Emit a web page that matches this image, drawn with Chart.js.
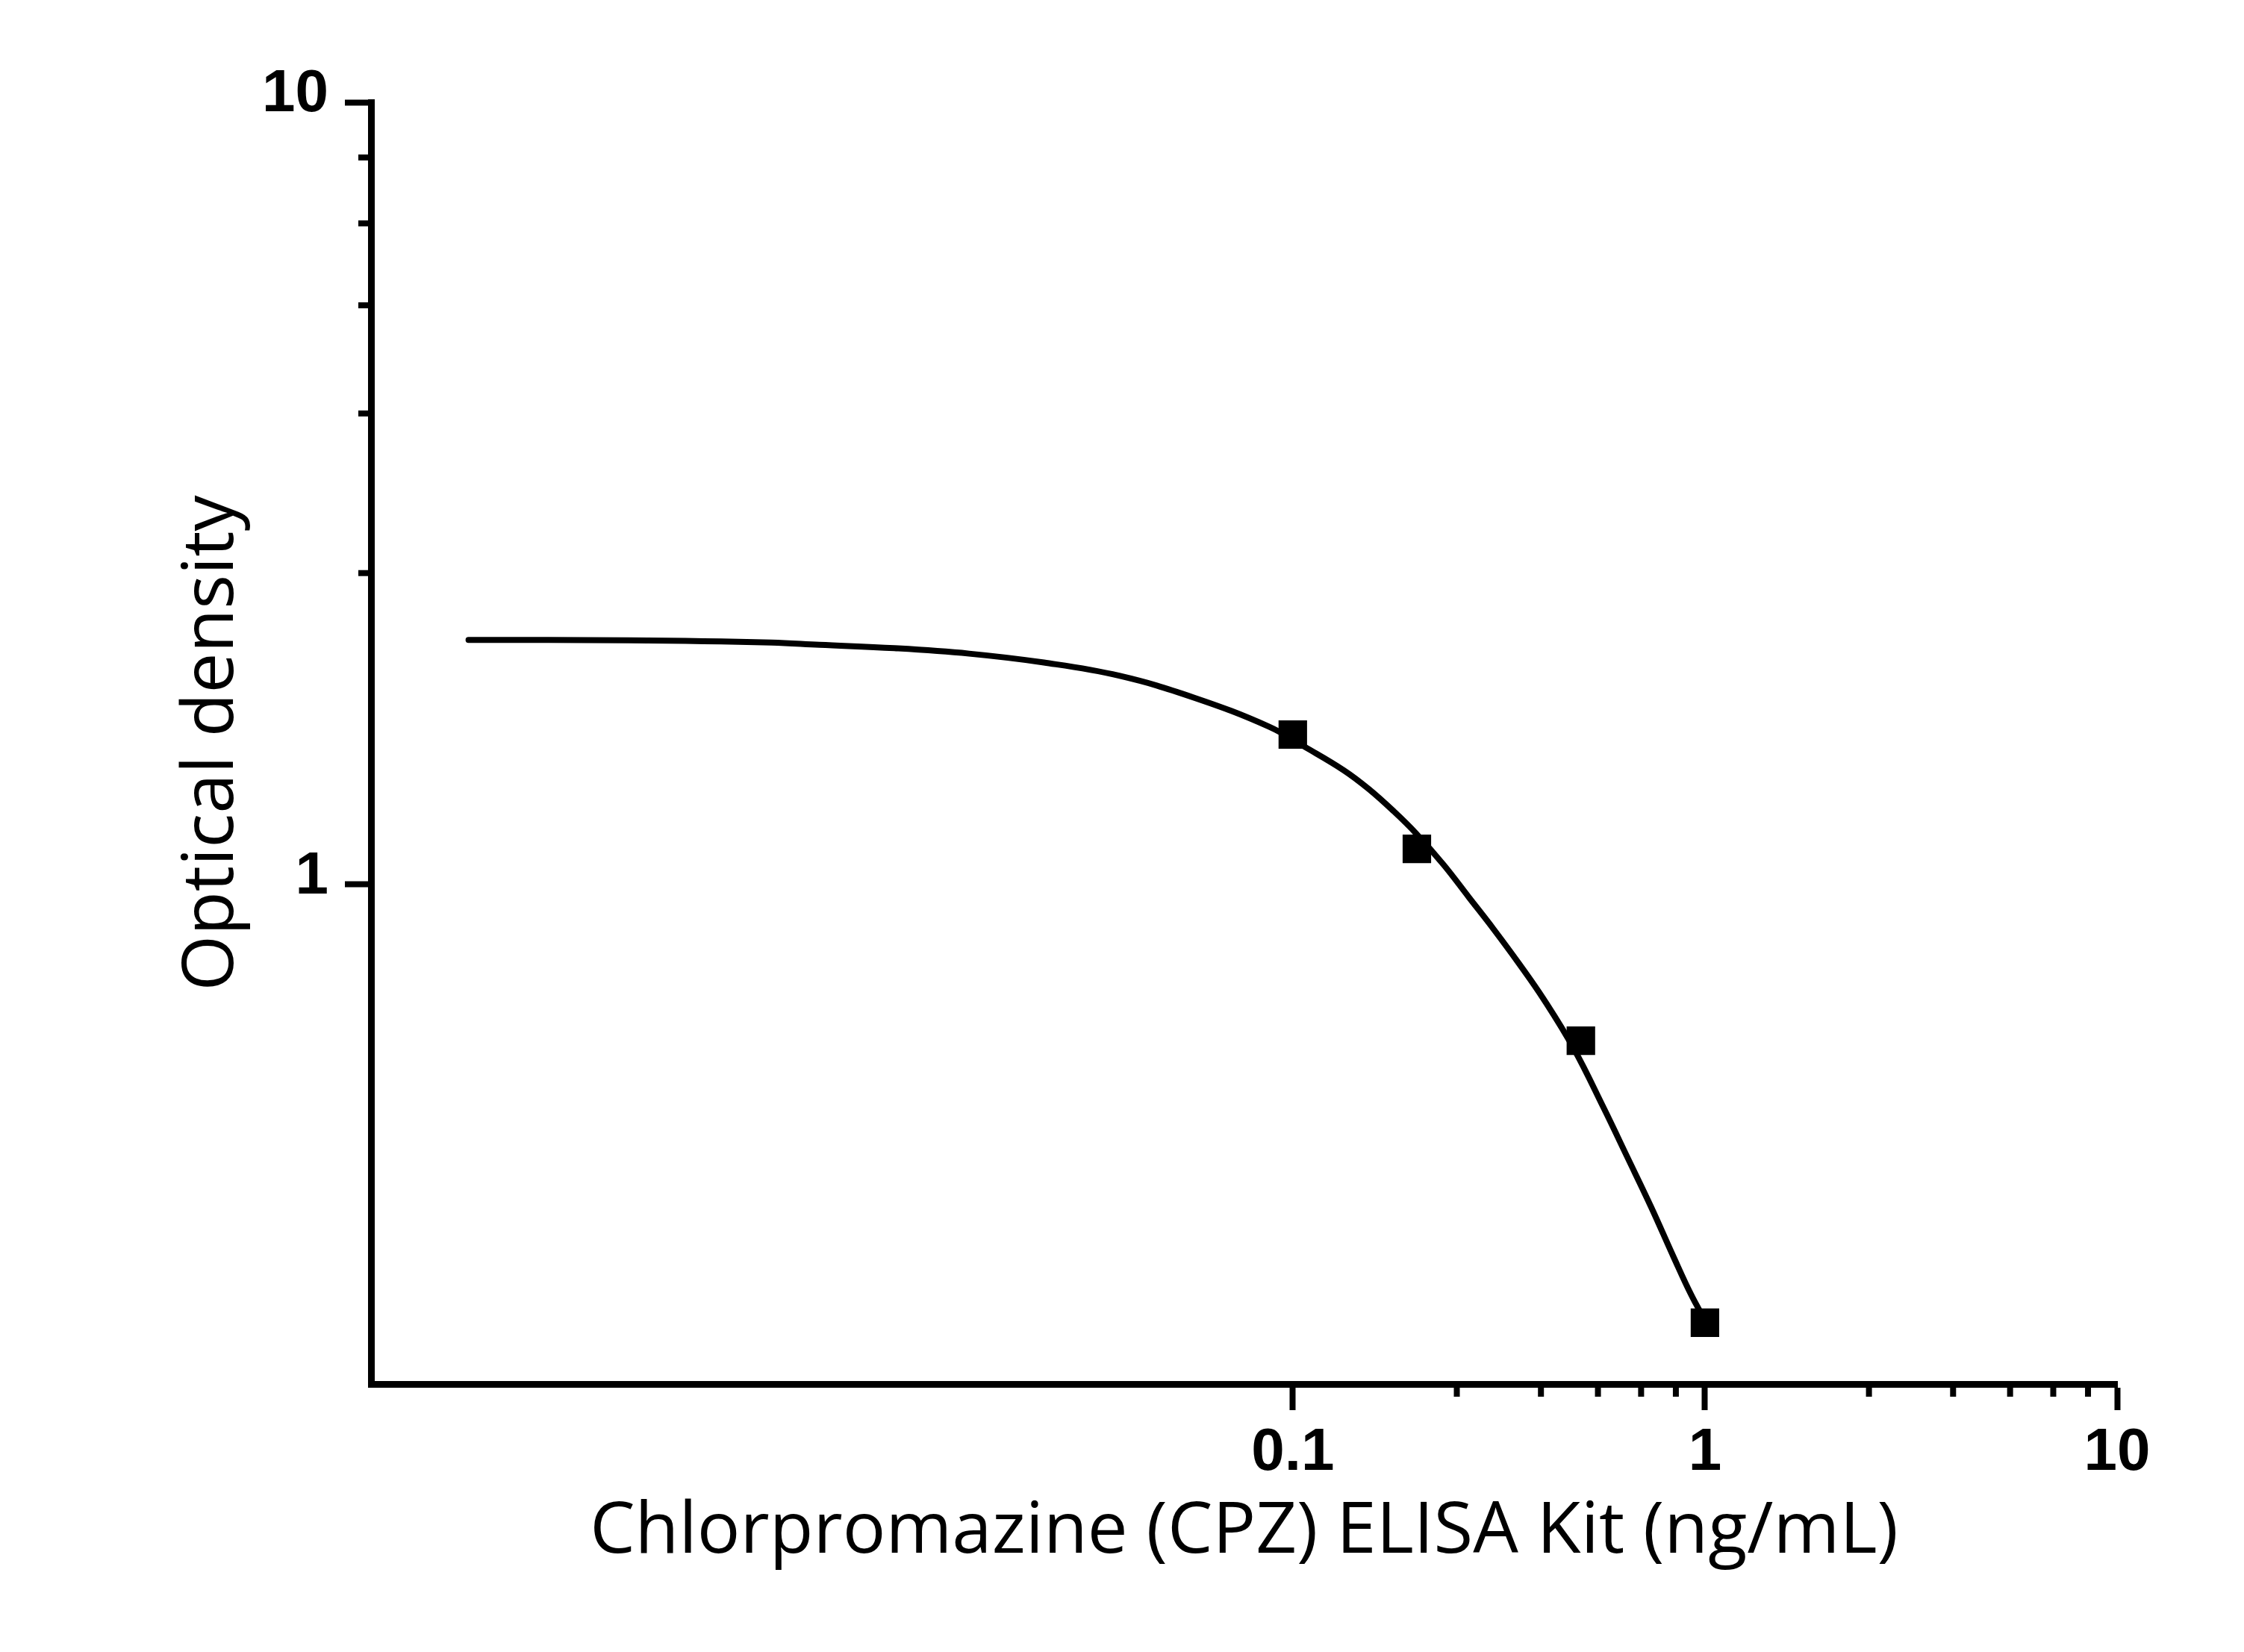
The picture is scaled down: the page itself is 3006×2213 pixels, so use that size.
<!DOCTYPE html>
<html>
<head>
<meta charset="utf-8">
<title>Chlorpromazine (CPZ) ELISA standard curve</title>
<script src="https://cdn.jsdelivr.net/npm/chart.js@4.4.1/dist/chart.umd.min.js"></script>
<style>
  html, body { margin: 0; padding: 0; background: #fff; }
  canvas { display: block; }
</style>
</head>
<body>
<canvas id="curveChart" width="3006" height="2213"></canvas>
<script>
// Standards: concentration (ng/mL) and optical density
const stdConc = [0.1, 0.2, 0.5, 1];
const stdOD = [1.554, 1.110, 0.631, 0.275];

// Fitted curve
const fitConc = [0.001, 0.00244, 0.00543, 0.0071, 0.0108, 0.0164, 0.0249, 0.0379, 0.0575, 0.0875,
                 0.1078, 0.1329, 0.1528, 0.1757, 0.1993, 0.2323, 0.2672, 0.3072, 0.3531, 0.4061,
                 0.4801, 0.5675, 0.6479, 0.7397, 0.8387, 0.9247, 1];
const fitOD = [2.053, 2.051, 2.038, 2.024, 2.004, 1.972, 1.921, 1.848, 1.733, 1.591,
               1.495, 1.399, 1.324, 1.240, 1.161, 1.059, 0.963, 0.876, 0.793, 0.713,
               0.617, 0.518, 0.448, 0.387, 0.334, 0.299, 0.277];

// Axis ticks
const xMajorTicks = [0.1, 1, 10];
const xMinorTicks = [0.25, 0.4, 0.55, 0.7, 0.85, 2.5, 4, 5.5, 7, 8.5];
const yMajorTicks = [1, 10];
const yMinorTicks = [2.5, 4, 5.5, 7, 8.5];

const tickFont = { family: '"Liberation Sans", Arial, sans-serif', size: 80, weight: 'bold' };
const titleFont = { family: '"Open Sans", "Noto Sans", sans-serif', size: 96, weight: 'normal' };

// short minor ticks, Origin style
const minorTicks = {
  id: 'minorTicks',
  afterDraw(chart) {
    const { ctx, chartArea, scales } = chart;
    ctx.save();
    ctx.strokeStyle = '#000';
    ctx.lineWidth = 8;
    xMinorTicks.forEach(v => {
      const px = scales.x.getPixelForValue(v);
      ctx.beginPath();
      ctx.moveTo(px, chartArea.bottom);
      ctx.lineTo(px, chartArea.bottom + 17);
      ctx.stroke();
    });
    yMinorTicks.forEach(v => {
      const py = scales.y.getPixelForValue(v);
      ctx.beginPath();
      ctx.moveTo(chartArea.left, py);
      ctx.lineTo(chartArea.left - 17, py);
      ctx.stroke();
    });
    ctx.restore();
  }
};

new Chart(document.getElementById('curveChart'), {
  type: 'scatter',
  data: {
    datasets: [
      {
        label: 'Standards',
        data: stdConc.map((c, i) => ({ x: c, y: stdOD[i] })),
        pointStyle: 'rect',
        pointRadius: 27,
        pointBorderWidth: 0,
        backgroundColor: '#000',
        order: 0
      },
      {
        label: 'Fit',
        type: 'line',
        data: fitConc.map((c, i) => ({ x: c, y: fitOD[i] })),
        borderColor: '#000',
        borderWidth: 8,
        borderCapStyle: 'round',
        borderJoinStyle: 'round',
        pointRadius: 0,
        tension: 0.4,
        fill: false,
        order: 1
      }
    ]
  },
  options: {
    responsive: false,
    devicePixelRatio: 1,
    animation: false,
    layout: { padding: { left: 0, top: 137, right: 170, bottom: 0 } },
    plugins: { legend: { display: false }, tooltip: { enabled: false } },
    scales: {
      x: {
        type: 'logarithmic',
        min: 0.00058,
        max: 10,
        afterFit: s => { s.height = 359; },
        afterBuildTicks: s => { s.ticks = xMajorTicks.map(v => ({ value: v })); },
        grid: { drawOnChartArea: false, tickLength: 35, tickWidth: 8, tickColor: '#000' },
        border: { display: true, width: 9, color: '#000' },
        ticks: {
          color: '#000', font: tickFont, padding: 10, maxRotation: 0,
          callback: v => String(v)
        },
        title: {
          display: true,
          text: 'Chlorpromazine (CPZ) ELISA Kit (ng/mL)',
          color: '#000', font: titleFont,
          padding: { top: 0, bottom: 103 }
        }
      },
      y: {
        type: 'logarithmic',
        min: 0.2296,
        max: 10,
        afterFit: s => { s.width = 497; },
        afterBuildTicks: s => { s.ticks = yMajorTicks.map(v => ({ value: v })); },
        grid: { drawOnChartArea: false, tickLength: 35, tickWidth: 8, tickColor: '#000' },
        border: { display: true, width: 9, color: '#000' },
        ticks: {
          color: '#000', font: tickFont, padding: 22, labelOffset: -10,
          callback: v => String(v)
        },
        title: {
          display: true,
          text: 'Optical density',
          color: '#000', font: titleFont,
          padding: { top: 227, bottom: 0 }
        }
      }
    }
  },
  plugins: [minorTicks]
});
</script>
</body>
</html>
